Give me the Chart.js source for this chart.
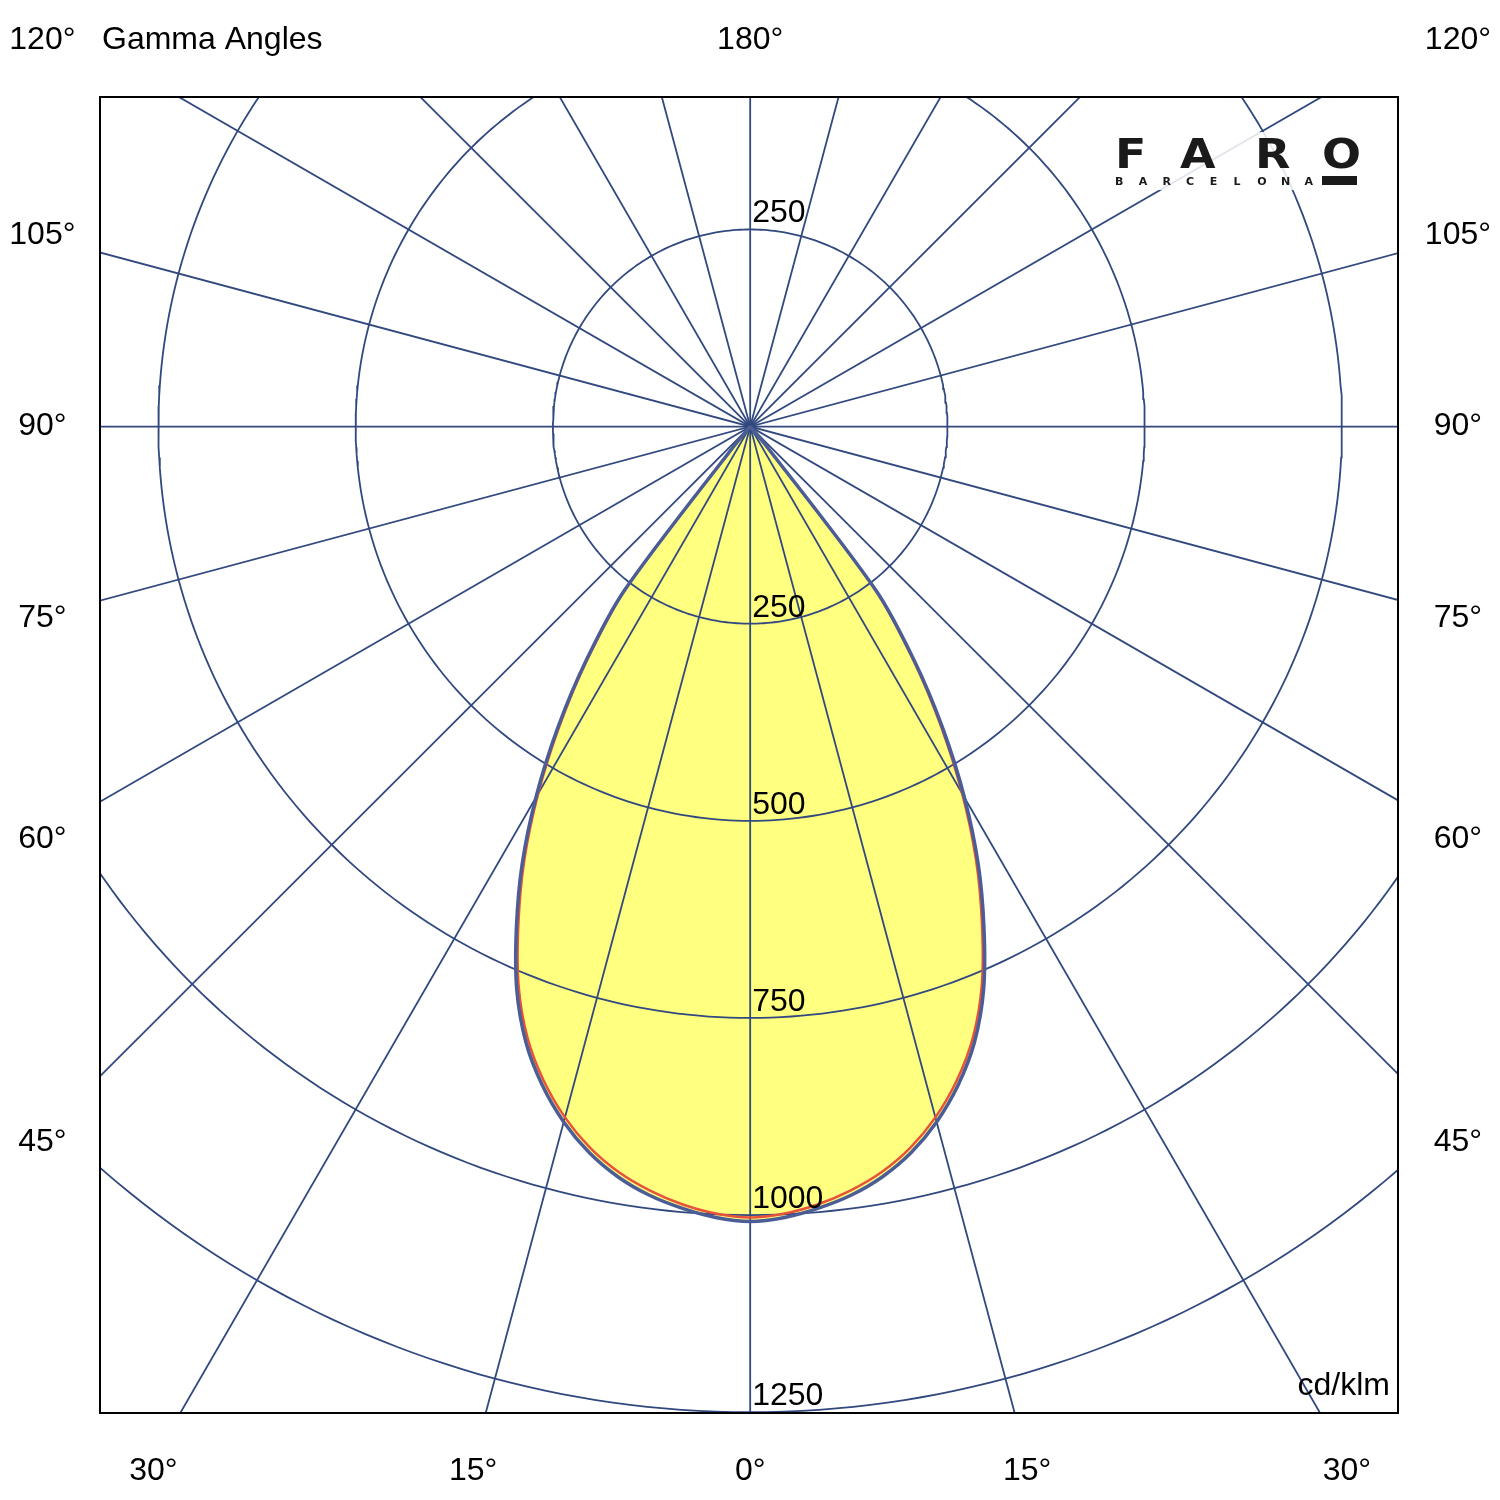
<!DOCTYPE html>
<html>
<head>
<meta charset="utf-8">
<script src="https://cdn.jsdelivr.net/npm/chart.js@4.4.0/dist/chart.umd.min.js"></script>
<style>
  html, body { margin: 0; padding: 0; background: #fff; }
  #polar { display: block; }
</style>
</head>
<body>
<canvas id="polar" width="1500" height="1500"></canvas>
<script>
// gamma angles of the readings, degrees from nadir
var gammaAngles = [0, 2.5, 5, 7.5, 10, 12.5, 15, 17.5, 20, 22.5, 25, 27.5, 30, 32.5, 35, 37.5, 40, 42.5, 45,
                   50, 55, 60, 65, 70, 75, 80, 85, 90];
// C0-C180 plane (blue), cd/klm
var intensityC0 = [1008, 1004, 995, 983, 966, 943, 913, 876, 831, 773, 701, 626, 543, 455, 363, 262, 30, 0, 0,
                   0, 0, 0, 0, 0, 0, 0, 0, 0];
// C90-C270 plane (red), cd/klm
var intensityC90 = [1003, 999, 990, 977, 960, 937, 907, 870, 825, 767, 695, 620, 537, 449, 358, 258, 28, 0, 0,
                    0, 0, 0, 0, 0, 0, 0, 0, 0];
// grid rings, cd/klm
var ringValues = [250, 500, 750, 1000, 1250];
// ring labels: along the nadir and one on the upper side
var ringLabelsDown = [250, 500, 750, 1000, 1250];
var ringLabelsUp = [250];
// radial lines every 15 degrees
var spokeAngles = [0, 15, 30, 45, 60, 75, 90, 105, 120, 135, 150, 165];
// gamma angle labels
var sideLabels = [120, 105, 90, 75, 60, 45];
var bottomLabels = [-30, -15, 0, 15, 30];
var topLabel = 180;

var gridColor = '#31497f';
var font = '"Liberation Sans", Arial, sans-serif';

// value along a gamma direction -> x/y in cd/klm (nadir points down)
function polarPoint(gamma, value) {
    var rad = gamma * Math.PI / 180;
    return { x: value * Math.sin(rad), y: -value * Math.cos(rad) };
}

// mirror a half curve to both sides of the nadir
function curvePoints(values) {
    var pts = [];
    for (var i = gammaAngles.length - 1; i >= 0; i--) {
        pts.push(polarPoint(-gammaAngles[i], values[i]));
    }
    for (var j = 1; j < gammaAngles.length; j++) {
        pts.push(polarPoint(gammaAngles[j], values[j]));
    }
    return pts;
}

function ringPoints(value) {
    var pts = [];
    for (var a = 0; a <= 360; a += 1) {
        pts.push(polarPoint(a, value));
    }
    return pts;
}

var datasets = [];

// yellow area under everything
datasets.push({
    data: curvePoints(intensityC0),
    showLine: true,
    fill: 'shape',
    backgroundColor: '#ffff80',
    borderWidth: 0,
    pointRadius: 0,
    tension: 0.3,
    order: 10
});

ringValues.forEach(function(v) {
    datasets.push({
        data: ringPoints(v),
        showLine: true,
        borderColor: gridColor,
        borderWidth: 1.8,
        pointRadius: 0,
        tension: 0,
        order: 5
    });
});

spokeAngles.forEach(function(a) {
    datasets.push({
        data: [polarPoint(a, -3000), polarPoint(a, 3000)],
        showLine: true,
        borderColor: gridColor,
        borderWidth: 1.8,
        pointRadius: 0,
        tension: 0,
        order: 5
    });
});

datasets.push({
    data: curvePoints(intensityC90),
    showLine: true,
    borderColor: '#e8523a',
    borderWidth: 2.5,
    pointRadius: 0,
    tension: 0.3,
    order: 2
});

datasets.push({
    data: curvePoints(intensityC0),
    showLine: true,
    borderColor: '#4a5d96',
    borderWidth: 3.5,
    pointRadius: 0,
    tension: 0.3,
    order: 1
});

// frame, labels and logo
var labelPlugin = {
    id: 'photometricLabels',
    afterDraw: function(chart) {
        var ctx = chart.ctx;
        var xs = chart.scales.x;
        var ys = chart.scales.y;
        var area = chart.chartArea;
        var cx = xs.getPixelForValue(0);

        ctx.save();
        ctx.strokeStyle = '#000';
        ctx.lineWidth = 2;
        ctx.strokeRect(area.left, area.top, area.right - area.left, area.bottom - area.top);

        ctx.fillStyle = '#000';
        ctx.font = '32px ' + font;

        // ring values
        ctx.textAlign = 'left';
        ctx.textBaseline = 'alphabetic';
        ringLabelsDown.forEach(function(v) {
            ctx.fillText(String(v), cx + 2, ys.getPixelForValue(-v) - 7);
        });
        ringLabelsUp.forEach(function(v) {
            ctx.fillText(String(v), cx + 2, ys.getPixelForValue(v) - 7);
        });

        // gamma labels on both sides
        ctx.textAlign = 'center';
        ctx.textBaseline = 'middle';
        sideLabels.forEach(function(g) {
            var rad = g * Math.PI / 180;
            var y = ys.getPixelForValue(-907 * Math.cos(rad) / Math.sin(rad));
            y = Math.max(y, 40);
            ctx.fillText(g + '°', xs.getPixelForValue(-897), y);
            ctx.fillText(g + '°', xs.getPixelForValue(897), y);
        });
        // gamma labels below
        bottomLabels.forEach(function(g) {
            var x = xs.getPixelForValue(1310 * Math.tan(g * Math.PI / 180));
            ctx.fillText(Math.abs(g) + '°', x, ys.getPixelForValue(-1325));
        });
        ctx.fillText(topLabel + '°', cx, 40);

        ctx.textAlign = 'left';
        ctx.fillText('Gamma Angles', 102, 40);

        ctx.textAlign = 'right';
        ctx.textBaseline = 'alphabetic';
        ctx.fillText('cd/klm', area.right - 8, area.bottom - 18);

        // logo
        ctx.fillStyle = 'rgba(255,255,255,0.85)';
        ctx.fillRect(1108, 132, 254, 58);
        ctx.fillStyle = '#1a1a1a';
        ctx.textAlign = 'left';
        ctx.textBaseline = 'alphabetic';
        ctx.font = 'bold 41px "DejaVu Sans", sans-serif';
        var logo = ['F', 'A', 'R', 'O'];
        var logoX = [1115, 1180, 1255, 1322];
        logo.forEach(function(ch, i) {
            ctx.save();
            ctx.translate(logoX[i], 168);
            ctx.scale(1.12, 1);
            ctx.fillText(ch, 0, 0);
            ctx.restore();
        });
        ctx.font = 'bold 11px "DejaVu Sans", sans-serif';
        'BARCELONA'.split('').forEach(function(ch, i) {
            ctx.fillText(ch, 1115 + i * 23.7, 185);
        });
        ctx.fillRect(1322, 176, 35, 9);
        ctx.restore();
    }
};

var ctx = document.getElementById('polar').getContext('2d');
var polarChart = new Chart(ctx, {
    type: 'scatter',
    data: { datasets: datasets },
    options: {
        responsive: false,
        devicePixelRatio: 1,
        animation: false,
        events: [],
        layout: { padding: { left: 100, top: 97, right: 102, bottom: 87 } },
        scales: {
            x: { type: 'linear', min: -824, max: 821, display: false },
            y: { type: 'linear', min: -1251, max: 418, display: false }
        },
        plugins: {
            legend: { display: false },
            tooltip: { enabled: false }
        }
    },
    plugins: [labelPlugin]
});
</script>
</body>
</html>
